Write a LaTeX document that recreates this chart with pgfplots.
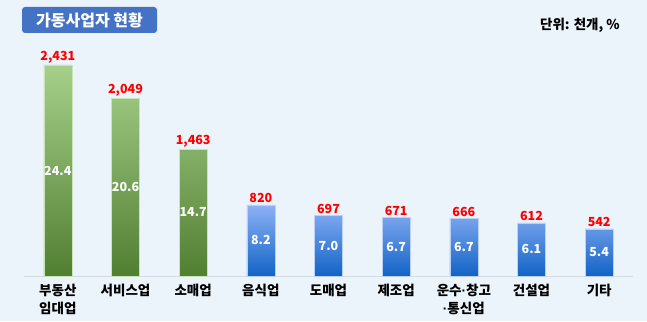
\documentclass[border=0pt]{standalone}
\usepackage{pgfplots}
\pgfplotsset{compat=1.18}
\usepackage{pgfplotstable}
\usepackage{fontspec}
\setmainfont{Noto Sans CJK KR}
\newfontfamily\latinfont{Liberation Sans}
\newcommand{\md}{{\latinfont\bfseries ·}}
\definecolor{bg}{HTML}{EBF3FB}
\definecolor{titlebox}{HTML}{4472C4}
\definecolor{gtop}{HTML}{A6D08A}
\definecolor{gbot}{HTML}{517F32}
\definecolor{btop}{HTML}{8DB2F6}
\definecolor{bbot}{HTML}{1263C6}
\definecolor{valred}{HTML}{FF0000}
\definecolor{axgray}{HTML}{D6DCE4}

\pgfplotstableread{
x v lab pct
0 2431 2,431 24.4
1 2049 2,049 20.6
2 1463 1,463 14.7
}\greentab
\pgfplotstableread{
x v lab pct
3 820 820 8.2
4 697 697 7.0
5 671 671 6.7
6 666 666 6.7
7 612 612 6.1
8 542 542 5.4
}\bluetab

\begin{document}
\begin{tikzpicture}
\fill[bg] (0pt,0pt) rectangle (647pt,321pt);
\begin{axis}[
  at={(24pt,45pt)}, anchor=south west,
  scale only axis, width=609pt, height=246pt,
  xmin=-0.5, xmax=8.5, ymin=0, ymax=2834,
  axis y line=none, axis x line*=bottom,
  x axis line style={-, draw=axgray, line width=0.8pt},
  xtick={0,...,8},
  xticklabels={{부동산\\임대업},서비스업,소매업,음식업,도매업,제조업,{운수\md 창고\\\md 통신업},건설업,기타},
  xtick style={draw=none},
  major tick length=0pt,
  xticklabel style={font=\bfseries\fontsize{13.5}{18}\selectfont, align=center, text=black, yshift=-5pt},
  extra x ticks={-0.5,0.5,...,8.5},
  extra x tick labels={},
  extra x tick style={major tick length=9pt, tick align=outside, tick style={draw=axgray, line width=0.8pt}},
  clip=false,
]
\addplot[ybar, bar width=28pt, bar shift=0pt, draw=gtop!60!white, line width=0.6pt, top color=gtop, bottom color=gbot,
  nodes near coords, point meta=explicit symbolic,
  nodes near coords style={font=\bfseries\fontsize{12.5}{12}\selectfont, text=valred, anchor=south, inner sep=1.5pt}]
  table[x=x, y=v, meta=lab] {\greentab};
\addplot[ybar, bar width=28pt, bar shift=0pt, draw=btop!60!white, line width=0.6pt, top color=btop, bottom color=bbot,
  nodes near coords, point meta=explicit symbolic,
  nodes near coords style={font=\bfseries\fontsize{12.5}{12}\selectfont, text=valred, anchor=south, inner sep=1.5pt}]
  table[x=x, y=v, meta=lab] {\bluetab};
\addplot[only marks, mark=none, nodes near coords, point meta=explicit symbolic,
  nodes near coords style={font=\bfseries\fontsize{12.5}{12}\selectfont, text=white, anchor=center}]
  table[x=x, y expr=\thisrow{v}/2, meta=pct] {\greentab};
\addplot[only marks, mark=none, nodes near coords, point meta=explicit symbolic,
  nodes near coords style={font=\bfseries\fontsize{12.5}{12}\selectfont, text=white, anchor=center}]
  table[x=x, y expr=\thisrow{v}/2, meta=pct] {\bluetab};
\end{axis}
\node[fill=titlebox, rounded corners=3pt, text=white, font=\bfseries\fontsize{16}{16}\selectfont,
  minimum width=135pt, minimum height=26pt, inner sep=0pt] at (89.5pt,301pt) {가동사업자 현황};
\node[anchor=east, inner sep=0pt, font=\bfseries\fontsize{13.5}{14}\selectfont] at (620pt,296pt) {단위: 천개, \%};
\pgfresetboundingbox
\path (0pt,0pt) rectangle (647pt,321pt);
\end{tikzpicture}
\end{document}
